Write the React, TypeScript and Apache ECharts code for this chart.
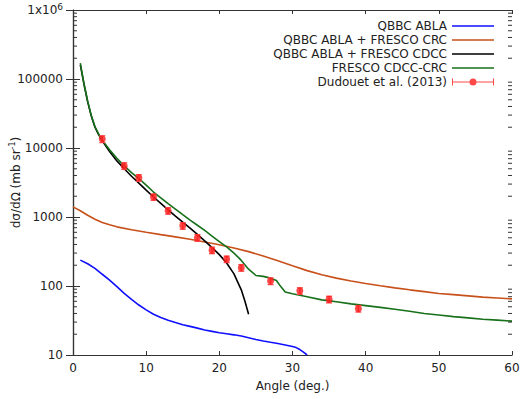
import React, { useEffect, useRef } from "react";
import * as echarts from "echarts";

// ---- data ----
const qbbcAbla: [number, number][] = [
  [1, 237], [2, 210], [3, 180], [4, 148], [5, 122], [6, 98], [7, 78], [8, 64], [9, 53], [10, 45],
  [11, 39], [12, 35], [13, 32], [14, 29.5], [15, 27.5], [16, 26], [17, 24.5], [18, 23], [19, 22],
  [20, 21], [21, 20.3], [22, 19.6], [23, 18.8], [24, 17.8], [25, 16.8], [26, 16], [27, 15.3],
  [28, 14.7], [29, 14], [30, 13.3], [30.5, 12.8], [31, 12], [31.5, 11], [32, 10],
];

const qbbcAblaFrescoCrc: [number, number][] = [
  [0, 1400], [1, 1230], [2, 1060], [3, 930], [4, 830], [5, 770], [6, 720], [8, 655], [10, 600],
  [12, 555], [14, 515], [16, 475], [18, 435], [20, 395], [22, 355], [24, 315], [26, 272], [28, 232],
  [30, 196], [32, 167], [34, 146], [36, 130], [38, 118], [40, 109], [42, 101], [44, 94], [46, 88],
  [48, 83], [50, 78], [52, 75], [54, 72], [56, 69], [58, 67], [60, 65],
];

const qbbcAblaFrescoCdcc: [number, number][] = [
  [1, 160000], [1.5, 84000], [2, 47000], [2.5, 29000], [3, 20000], [3.5, 15600], [4, 12700],
  [5, 8900], [6, 6500], [7, 5000], [8, 3900], [9, 3100], [10, 2450], [11, 1950], [12, 1580],
  [13, 1270], [14, 1030], [15, 840], [16, 690], [17, 560], [18, 450], [19, 360], [20, 285],
  [21, 215], [22, 150], [23, 88], [23.5, 60], [24, 39],
];

const frescoCdccCrc: [number, number][] = [
  [1, 170000], [1.5, 86000], [2, 48000], [2.5, 29500], [3, 20500], [3.5, 16000], [4, 13000],
  [5, 9400], [6, 7100], [7, 5500], [8, 4400], [9, 3600], [10, 2900], [11, 2300], [12, 1900],
  [13, 1560], [14, 1300], [15, 1080], [16, 900], [17, 760], [18, 640], [19, 530], [20, 440],
  [21, 370], [22, 300], [23, 235], [24, 175], [25, 142], [26, 138], [27, 130], [27.8, 120],
  [28.4, 98], [29, 82], [30, 77], [32, 70], [34, 63], [36, 59], [38, 55], [40, 52], [42, 49],
  [44, 46], [46, 43], [48, 40], [50, 38], [52, 36], [54, 34.5], [56, 33], [58, 32], [60, 31],
];

const expAngles = [4, 7, 9, 11, 13, 15, 17, 19, 21, 23, 27, 31, 35, 39];
const expValues = [13500, 5500, 3700, 1950, 1230, 745, 500, 330, 245, 184, 118, 85, 64, 47];
const expErrors = [1500, 600, 400, 200, 130, 80, 55, 35, 26, 20, 13, 9, 7, 5];

const xTicks = [0, 10, 20, 30, 40, 50, 60];
const yDecades = [10, 100, 1000, 10000, 100000];
const minorMultipliers = [2, 3, 4, 5, 6, 7, 8, 9];

const seriesNames = [
  "QBBC ABLA",
  "QBBC ABLA + FRESCO CRC",
  "QBBC ABLA + FRESCO CDCC",
  "FRESCO CDCC-CRC",
  "Dudouet et al. (2013)",
];

const COLORS = {
  blue: "#1010ff",
  orange: "#c8501a",
  black: "#000000",
  green: "#17701a",
  red: "#ff1a1a",
  err: "#ff4a4a",
  axis: "#333333",
  text: "#222222",
};

const FONT = "DejaVu Sans";

const lineIcon = "path://M0,0h0.01v0.01h-0.01z M0,3.3h42v1.4h-42z M41.99,7.99h0.01v0.01h-0.01z";
const errIcon =
  "path://M0,0.5h1v7h-1z M41,0.5h1v7h-1z M0,3.5h42v1h-42z M17.5,4a3.5,3.5 0 1,1 7,0a3.5,3.5 0 1,1 -7,0z";

export default function App() {
  const ref = useRef<HTMLDivElement>(null);

  useEffect(() => {
    if (!ref.current) return;
    const chart = echarts.init(ref.current, undefined, { renderer: "svg" });

    const minorTicks: [number, number][] = [];
    yDecades.forEach((d) => minorMultipliers.forEach((m) => minorTicks.push([0, d * m])));

    const expPoints = expAngles.map((a, i) => [a, expValues[i]]);
    const expBars = expAngles.map((a, i) => [a, expValues[i] - expErrors[i], expValues[i] + expErrors[i]]);

    const xMin = xTicks[0];
    const xMax = xTicks[xTicks.length - 1];
    const yMin = yDecades[0];
    const yMax = 1000000;

    const lineSeries = (name: string, data: [number, number][], color: string) => ({
      name,
      type: "line",
      data,
      showSymbol: false,
      symbol: "none",
      smooth: false,
      clip: true,
      lineStyle: { color, width: 1.6 },
      itemStyle: { color },
      z: 3,
    });

    chart.setOption({
      animation: false,
      backgroundColor: "#ffffff",
      grid: { left: 73, right: 9, top: 10, bottom: 44, containLabel: false, outerBoundsMode: "none" },
      legend: {
        data: seriesNames.map((n, i) => ({ name: n, icon: i === 4 ? errIcon : lineIcon })),
        orient: "vertical",
        right: 22,
        top: 15,
        align: "right",
        itemWidth: 42,
        itemHeight: 8,
        itemGap: 2,
        selectedMode: false,
        textStyle: { fontFamily: FONT, fontSize: 12, color: COLORS.text },
      },
      xAxis: [
        {
          type: "value",
          min: xMin,
          max: xMax,
          interval: 10,
          name: "Angle (deg.)",
          nameLocation: "middle",
          nameGap: 25,
          nameMoveOverlap: false,
          nameTextStyle: { fontFamily: FONT, fontSize: 12, color: COLORS.text },
          axisLine: { show: true, lineStyle: { color: COLORS.axis, width: 1.2 } },
          axisTick: { show: true, inside: true, length: 4, lineStyle: { color: COLORS.axis } },
          axisLabel: { fontFamily: FONT, fontSize: 12, color: COLORS.text, margin: 7 },
          splitLine: { show: false },
        },
        {
          type: "value",
          position: "top",
          min: xMin,
          max: xMax,
          interval: 10,
          axisLine: { show: true, lineStyle: { color: COLORS.axis, width: 1.2 } },
          axisTick: { show: true, inside: true, length: 4, lineStyle: { color: COLORS.axis } },
          axisLabel: { show: false },
          splitLine: { show: false },
        },
      ],
      yAxis: [
        {
          type: "log",
          logBase: 10,
          min: yMin,
          max: yMax,
          name: "dσ/dΩ (mb sr{sup|-1})",
          nameLocation: "middle",
          nameGap: 50,
          nameMoveOverlap: false,
          nameTextStyle: {
            fontFamily: FONT,
            fontSize: 12,
            color: COLORS.text,
            rich: {
              sup: { fontFamily: FONT, fontSize: 8, color: COLORS.text, padding: [0, 0, 7, 0] },
            },
          },
          axisLine: { show: true, lineStyle: { color: COLORS.axis, width: 1.2 } },
          axisTick: { show: true, inside: true, length: 7, lineStyle: { color: COLORS.axis } },
          axisLabel: {
            fontFamily: FONT,
            fontSize: 12,
            color: COLORS.text,
            margin: 10,
            formatter: (v: number) => {
              const r = Math.round(v);
              return r >= 1000000 ? "1x10{sup|6}" : String(r);
            },
            rich: {
              sup: { fontFamily: FONT, fontSize: 9, color: COLORS.text, padding: [0, 0, 7, 0] },
            },
          },
          splitLine: { show: false },
          minorTick: { show: false },
        },
        {
          type: "log",
          logBase: 10,
          position: "right",
          min: yMin,
          max: yMax,
          axisLine: { show: true, lineStyle: { color: COLORS.axis, width: 1.2 } },
          axisTick: { show: true, inside: true, length: 7, lineStyle: { color: COLORS.axis } },
          axisLabel: { show: false },
          splitLine: { show: false },
        },
      ],
      series: [
        lineSeries(seriesNames[0], qbbcAbla, COLORS.blue),
        lineSeries(seriesNames[1], qbbcAblaFrescoCrc, COLORS.orange),
        lineSeries(seriesNames[2], qbbcAblaFrescoCdcc, COLORS.black),
        lineSeries(seriesNames[3], frescoCdccCrc, COLORS.green),
        {
          name: "errbars",
          type: "custom",
          data: expBars,
          encode: { x: 0, y: [1, 2] },
          z: 4,
          silent: true,
          renderItem: (params: any, api: any) => {
            const x = api.value(0);
            const top = api.coord([x, api.value(2)]);
            const bot = api.coord([x, api.value(1)]);
            const st = { stroke: COLORS.err, lineWidth: 1.4 };
            return {
              type: "group",
              children: [
                { type: "line", shape: { x1: top[0], y1: top[1], x2: bot[0], y2: bot[1] }, style: st },
                { type: "line", shape: { x1: top[0] - 3, y1: top[1], x2: top[0] + 3, y2: top[1] }, style: st },
                { type: "line", shape: { x1: bot[0] - 3, y1: bot[1], x2: bot[0] + 3, y2: bot[1] }, style: st },
              ],
            };
          },
        },
        {
          name: seriesNames[4],
          type: "scatter",
          data: expPoints,
          symbol: "circle",
          symbolSize: 7,
          itemStyle: { color: COLORS.red },
          z: 5,
        },
        {
          name: "minorTicks",
          type: "custom",
          data: minorTicks,
          silent: true,
          z: 6,
          renderItem: (params: any, api: any) => {
            const v = api.value(1);
            const l = api.coord([xMin, v]);
            const r = api.coord([xMax, v]);
            const st = { stroke: COLORS.axis, lineWidth: 1 };
            return {
              type: "group",
              children: [
                { type: "line", shape: { x1: l[0], y1: l[1], x2: l[0] + 4, y2: l[1] }, style: st },
                { type: "line", shape: { x1: r[0] - 4, y1: r[1], x2: r[0], y2: r[1] }, style: st },
              ],
            };
          },
        },
      ],
    });

    return () => chart.dispose();
  }, []);

  return (
    <div
      ref={ref}
      style={{ position: "fixed", left: 0, top: 0, width: 521, height: 399, background: "#fff" }}
    />
  );
}
